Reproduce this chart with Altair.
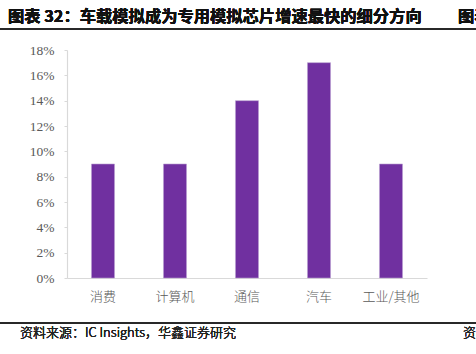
import altair as alt
import pandas as pd

categories = ["消费", "计算机", "通信", "汽车", "工业/其他"]
values = [0.09, 0.09, 0.14, 0.17, 0.09]
y_ticks = [0, 0.02, 0.04, 0.06, 0.08, 0.10, 0.12, 0.14, 0.16, 0.18]

title_text = "图表 32：车载模拟成为专用模拟芯片增速最快的细分方向"
source_text = "资料来源：IC Insights，华鑫证券研究"

df = pd.DataFrame({"cat": categories, "val": values})

cjk = "Noto Sans CJK SC"
serif = "Liberation Serif"
grey = "#595959"

bars = alt.Chart(df).mark_bar(color="#7030A0", stroke="#B9A0D0", strokeWidth=0.6).encode(
    x=alt.X("cat:N", sort=categories, title=None,
            scale=alt.Scale(paddingInner=0.68, paddingOuter=0.34),
            axis=alt.Axis(labelAngle=0, labelFont=cjk, labelFontSize=13, labelFontWeight=300,
                          labelColor=grey, labelPadding=12, ticks=False,
                          domainColor="#d9d9d9", domainWidth=1.2)),
    y=alt.Y("val:Q", title=None,
            scale=alt.Scale(domain=[0, 0.18], nice=False),
            axis=alt.Axis(values=y_ticks, format=".0%", grid=False, labelFont=serif,
                          labelFontSize=13.5, labelColor=grey, labelPadding=10, tickSize=3,
                          tickColor="#d9d9d9", domainColor="#d9d9d9", domainWidth=1.2)),
)

title = alt.Chart(df).mark_text(align="left", baseline="middle", font=cjk, fontSize=16.3,
                                fontWeight="bold", color="#111111").encode(
    x=alt.value(-59), y=alt.value(-33), text=alt.datum(title_text))
title2 = alt.Chart(df).mark_text(align="left", baseline="middle", font=cjk, fontSize=16.3,
                                 fontWeight="bold", color="#111111").encode(
    x=alt.value(391), y=alt.value(-33), text=alt.datum("图表 33"))
line1 = alt.Chart(df).mark_rule(color="#222222", strokeWidth=1).encode(
    x=alt.value(-67), x2=alt.value(409), y=alt.value(-21))
foot = alt.Chart(df).mark_text(align="left", baseline="middle", font=cjk, fontSize=13,
                               fontWeight=300, color="#222222").encode(
    x=alt.value(-47), y=alt.value(283), text=alt.datum(source_text))
foot2 = alt.Chart(df).mark_text(align="left", baseline="middle", font=cjk, fontSize=13,
                                fontWeight=300, color="#222222").encode(
    x=alt.value(396), y=alt.value(283), text=alt.datum("资料来源"))
line2 = alt.Chart(df).mark_rule(color="#222222", strokeWidth=1).encode(
    x=alt.value(-67), x2=alt.value(409), y=alt.value(273))

chart = alt.layer(bars, title, title2, line1, foot, foot2, line2).properties(
    width=360, height=228,
    autosize=alt.AutoSizeParams(type="none"),
    padding={"left": 67, "top": 50, "right": 49, "bottom": 76},
    background="white",
).configure_view(stroke=None)

chart.save("out.html", embed_options={"renderer": "svg", "actions": False})
